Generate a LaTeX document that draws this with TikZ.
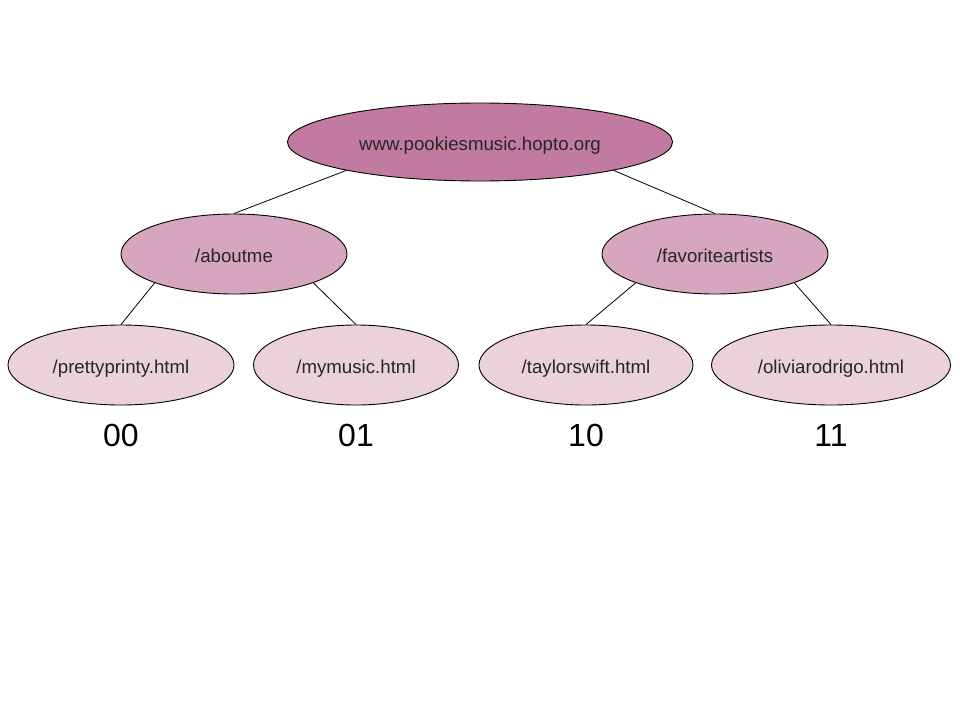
\documentclass[tikz,border=0pt]{standalone}
\usepackage{fontspec}
\setmainfont{Liberation Sans}
\usetikzlibrary{shapes.geometric}
\definecolor{rootfill}{HTML}{C27BA0}
\definecolor{midfill}{HTML}{D5A6BD}
\definecolor{leaffill}{HTML}{EAD1DC}
\begin{document}
\begin{tikzpicture}[x=1pt,y=-1pt,
  elli/.style={ellipse,draw=black,line width=0.9pt,inner sep=0pt,
    text height=16pt,text depth=0pt,
    font=\fontsize{18.67}{22}\selectfont,text=black!85},
  rootnode/.style={elli,fill=rootfill},
  midnode/.style={elli,fill=midfill},
  leafnode/.style={elli,fill=leaffill},
  code/.style={font=\fontsize{32}{36}\selectfont},
  link/.style={draw=black,line width=0.8pt}]
\useasboundingbox[fill=white] (0,0) rectangle (960,720);
\node[rootnode,minimum width=385pt,minimum height=78pt] (root) at (480,142) {www.pookiesmusic.hopto.org};
\node[midnode,minimum width=226pt,minimum height=80pt] (about) at (234,254) {/aboutme};
\node[midnode,minimum width=226pt,minimum height=80pt] (fav) at (715,254) {/favoriteartists};
\node[leafnode,minimum width=226pt,minimum height=80pt] (pretty) at (121,365) {/prettyprinty.html};
\node[leafnode,minimum width=205pt,minimum height=80pt] (mymusic) at (356,365) {/mymusic.html};
\node[leafnode,minimum width=214pt,minimum height=80pt] (taylor) at (586,365) {/taylorswift.html};
\node[leafnode,minimum width=239pt,minimum height=80pt] (olivia) at (831,365) {/oliviarodrigo.html};
\node[code] (c00) at (121,435) {00};
\node[code] (c01) at (356,435) {01};
\node[code] (c10) at (586,435) {10};
\node[code] (c11) at (831,435) {11};
\draw[link] (root.192) -- (about.north);
\draw[link] (root.348) -- (fav.north);
\draw[link] (about.200) -- (pretty.north);
\draw[link] (about.340) -- (mymusic.north);
\draw[link] (fav.200) -- (taylor.north);
\draw[link] (fav.340) -- (olivia.north);
\end{tikzpicture}
\end{document}
